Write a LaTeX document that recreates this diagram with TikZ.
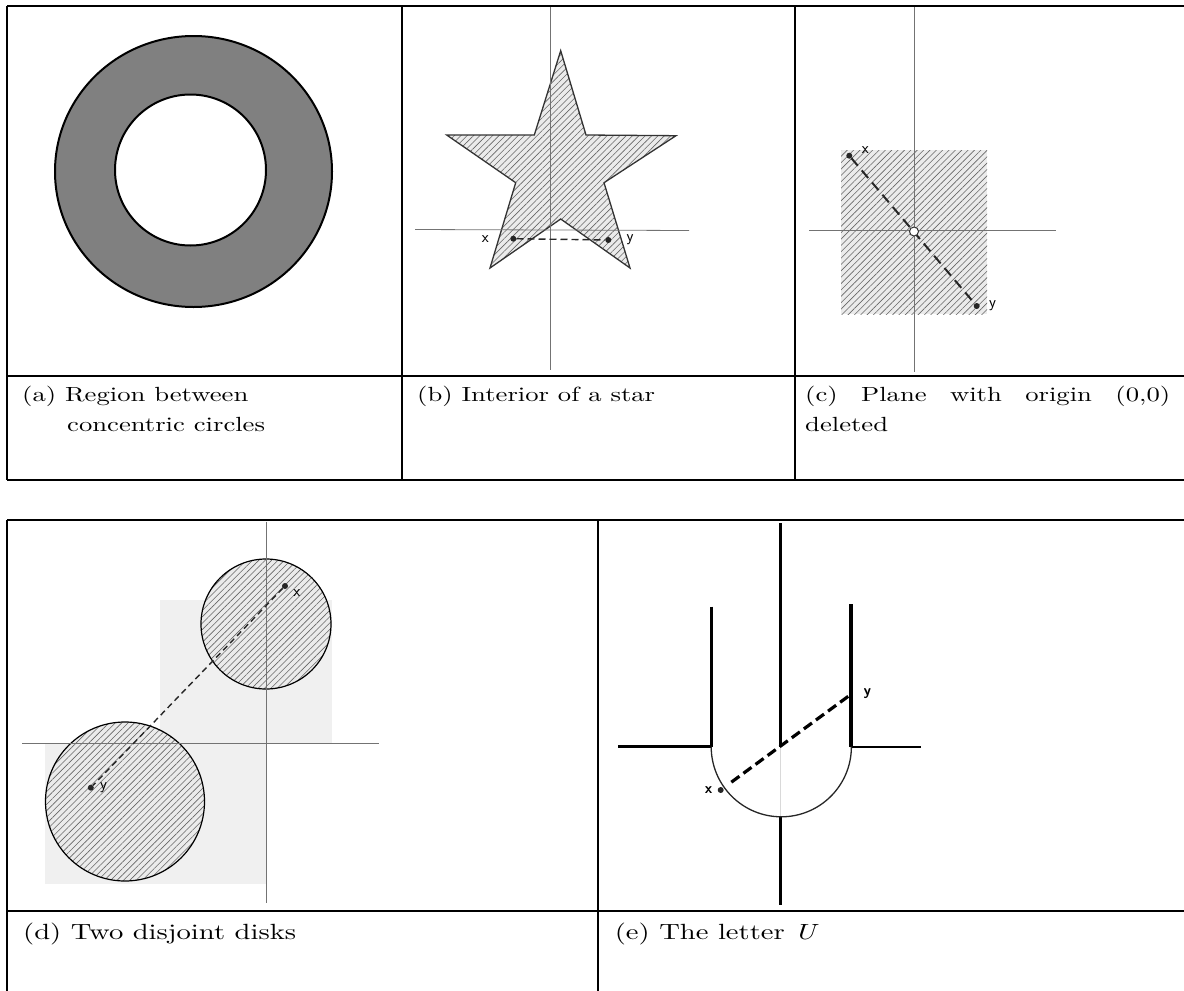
\documentclass[tikz,border=0pt]{standalone}
\usepackage{fontspec}
\setmainfont{lmroman10-regular.otf}[ItalicFont=lmroman10-italic.otf,
 BoldFont=lmroman10-bold.otf,FakeStretch=1.3]
\usetikzlibrary{patterns.meta,positioning}

\begin{document}
\begin{tikzpicture}[x=1pt,y=-1pt,
 gridline/.style={line width=2pt},
 axisline/.style={black!55,line width=0.8pt},
 hatchfill/.style={preaction={fill=black!8},
   preaction={pattern={Lines[angle=45,distance=4.5pt,line width=0.6pt]},pattern color=black!60}},
 dot/.style={circle,fill=black!85,inner sep=0pt,minimum size=6pt},
 hole/.style={circle,draw=black!80,fill=white,line width=1pt,inner sep=0pt,minimum size=9pt},
 lbl/.style={font=\sffamily\fontsize{16}{16}\selectfont,inner sep=0pt},
 lblbold/.style={font=\sffamily\bfseries\fontsize{15}{15}\selectfont,inner sep=0pt},
 dashline/.style={black!85,line width=1.4pt,dash pattern=on 7pt off 4pt},
 captxt/.style={anchor=north west,inner sep=0pt,align=left,
   font=\fontsize{20.5}{30}\selectfont},
 bigcaptxt/.style={captxt,font=\fontsize{22}{30}\selectfont}]
\useasboundingbox (0,0) rectangle (1184,991);
\clip (0,0) rectangle (1184,991);

% (a)
\filldraw[fill=black!50,even odd rule,line width=2pt]
 (193.5,171.5) circle[x radius=138.5,y radius=135.5]
 (190.5,170) circle[radius=75.5];

% (b)
\draw[hatchfill,draw=black!80,line width=1.3pt]
 (560.7,50.7) -- (586,135) -- (676,135.7) -- (604,182.7) -- (630,268)
 -- (560.7,219) -- (490,268) -- (515.7,182.7) -- (446.7,135) -- (534.3,135) -- cycle;
\draw[axisline] (550,6) -- (550,370);
\draw[axisline] (415,229.5) -- (689,230.5);
\node[dot] (bx) at (513.3,238.7) {};
\node[dot] (by) at (608.3,240) {};
\draw[dashline] (bx) -- (by);
\node[lbl,left=21pt of bx] (bxl) {x};
\node[lbl,right=15pt of by] (byl) {y};

% (c)
\path[hatchfill] (841,150) rectangle (987,314);
\draw[axisline] (914,6) -- (914,372);
\draw[axisline] (809,230.7) -- (1056,230.7);
\node[dot] (cx) at (849.3,155.7) {};
\node[dot] (cy) at (976.7,306) {};
\draw[dashline,line width=2pt,dash pattern=on 10pt off 6pt] (cx) -- (cy);
\node[hole] (orig) at (914,231.5) {};
\node[lbl,above right=0pt and 10pt of cx] (cxl) {x};
\node[lbl,right=9pt of cy] (cyl) {y};

% (d)
\fill[black!6] (160,600) rectangle (332,743);
\fill[black!6] (45,743) rectangle (266,884);
\draw[hatchfill,line width=1.2pt] (266,624) circle[radius=65];
\draw[hatchfill,line width=1.2pt] (125,801.5) circle[radius=79.5];
\draw[axisline] (266,521.7) -- (266,903);
\draw[axisline] (22.3,743.3) -- (378.8,743.3);
\node[dot] (dx) at (285,586) {};
\node[dot] (dy) at (90.8,787.7) {};
\draw[dashline,dash pattern=on 6pt off 4pt] (dx) -- (dy);
\node[lbl,below right=1pt and 6pt of dx] (dxl) {x};
\node[lbl,right=6pt of dy] (dyl) {y};

% (e)
\draw[line width=3pt] (780.5,523) -- (780.5,746.7);
\draw[line width=3pt] (780.5,817) -- (780.5,905);
\draw[black!15,line width=0.6pt] (780.5,746.7) -- (780.5,817);
\draw[line width=3pt] (711.2,606.7) -- (711.2,746.7);
\draw[line width=4pt] (851.4,604) -- (851.4,746.7);
\draw[line width=3pt] (618.4,746.7) -- (711.2,746.7);
\draw[line width=2pt] (851.4,746.7) -- (921.4,746.7);
\draw[black!85,line width=1.3pt] (711.2,746.7) arc[start angle=180,end angle=0,radius=70.1];
\node[dot] (ex) at (720.7,790) {};
\coordinate (ey) at (851.4,694);
\draw[line width=3.2pt,dash pattern=on 10pt off 5pt,shorten <=10pt] (ex) -- (ey);
\node[lblbold,left=5pt of ex] (exl) {x};
\node[lblbold,right=12pt of ey] (eyl) {y};

% table rules
\draw[gridline] (7,6) -- (1190,6) (7,376) -- (1190,376) (7,480) -- (1190,480);
\draw[gridline] (7,6) -- (7,480) (402,6) -- (402,480) (795,6) -- (795,480);
\draw[gridline] (7,520) -- (1190,520) (7,911) -- (1190,911);
\draw[gridline] (7,520) -- (7,1000) (598,520) -- (598,1000);

% captions
\node[captxt] (capa) at (22,386) {(a) Region between\\\hspace*{45pt}concentric circles};
\node[captxt] (capb) at (417,386) {(b) Interior of a star};
\node[captxt,text width=365pt,align=justify] (capc) at (805,386)
 {(c) Plane with origin (0,0)\linebreak deleted};
\node[bigcaptxt] (capd) at (23,923) {(d) Two disjoint disks};
\node[bigcaptxt] (cape) at (614.6,923) {(e) The letter \textit{U}};
\end{tikzpicture}
\end{document}
